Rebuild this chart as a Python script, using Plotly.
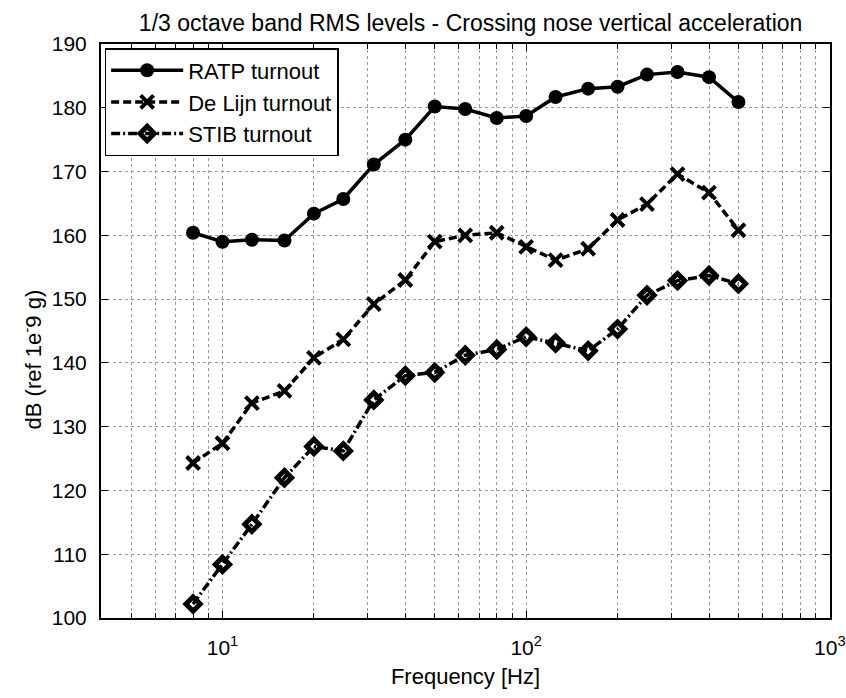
import plotly.graph_objects as go

# 1/3 octave band centre frequencies [Hz]
freq = [8, 10, 12.5, 16, 20, 25, 31.5, 40, 50, 63, 80, 100, 125, 160, 200, 250, 315, 400, 500]

# RMS levels in dB (ref 1e-9 g)
ratp = [160.4, 159.0, 159.3, 159.2, 163.4, 165.7, 171.1, 175.0, 180.2, 179.8, 178.4, 178.7,
        181.7, 183.0, 183.3, 185.2, 185.6, 184.8, 180.9]
de_lijn = [124.3, 127.4, 133.7, 135.6, 140.8, 143.7, 149.2, 153.0, 159.0, 160.0, 160.4, 158.2,
           156.1, 157.9, 162.4, 164.9, 169.6, 166.7, 160.8]
stib = [102.2, 108.4, 114.7, 122.0, 126.9, 126.2, 134.2, 138.0, 138.5, 141.2, 142.1, 144.1,
        143.1, 141.9, 145.3, 150.6, 152.9, 153.7, 152.4]

x_ticks = [10, 100, 1000]
x_tick_text = ["10<sup>1</sup>", "10<sup>2</sup>", "10<sup>3</sup>"]
x_minor = [5, 6, 7, 8, 9, 20, 30, 40, 50, 60, 70, 80, 90, 200, 300, 400, 500, 600, 700, 800, 900]
y_ticks = list(range(100, 191, 10))

font_family = "Liberation Sans, Arial, sans-serif"
grid_grey = "#9a9a9a"

fig = go.Figure()
fig.add_trace(go.Scatter(
    x=freq, y=ratp, name="RATP turnout", mode="lines+markers",
    line=dict(color="black", width=3.5, dash="solid"),
    marker=dict(symbol="circle", size=14, color="black"),
))
fig.add_trace(go.Scatter(
    x=freq, y=de_lijn, name="De Lijn turnout", mode="lines+markers",
    line=dict(color="black", width=3.5, dash="8px,4px"),
    marker=dict(symbol="x-thin-open", size=13, color="black", line=dict(width=4, color="black")),
))
fig.add_trace(go.Scatter(
    x=freq, y=stib, name="STIB turnout", mode="lines+markers",
    line=dict(color="black", width=3.5, dash="9px,3px,2px,3px"),
    marker=dict(symbol="diamond-open", size=11, color="black", line=dict(width=5, color="black")),
))

axis_common = dict(
    showline=True, linecolor="black", linewidth=2, mirror="ticks",
    ticks="inside", ticklen=7, tickcolor="black", tickwidth=1,
    showgrid=True, gridcolor=grid_grey, griddash="dot", gridwidth=1,
    zeroline=False, automargin=False,
    tickfont=dict(family=font_family, size=21, color="black"),
    title_font=dict(family=font_family, size=22, color="black"),
)

fig.update_xaxes(
    type="log", range=[0.6, 3.0005],
    tickvals=x_ticks, ticktext=x_tick_text, ticklabelstandoff=10,
    ticklabeloverflow="allow",
    minor=dict(tickmode="array", tickvals=x_minor, ticks="inside", ticklen=5,
               tickcolor="black", showgrid=True,
               gridcolor=grid_grey, griddash="dot", gridwidth=1),
    title_text="Frequency [Hz]", title_standoff=10,
    **axis_common,
)
fig.update_yaxes(
    range=[100, 190], tickvals=y_ticks, ticklabelstandoff=8,
    **axis_common,
)

# y-axis title drawn as a rotated annotation so it can sit slightly below centre
fig.add_annotation(
    text="dB (ref 1e<sup>-</sup>9 g)", textangle=-90,
    xref="paper", yref="paper", x=-0.095, y=0.45,
    xanchor="center", yanchor="middle", showarrow=False,
    font=dict(family=font_family, size=22, color="black"),
)

fig.update_layout(
    width=846, height=698,
    margin=dict(l=101, r=16, t=44, b=80),
    paper_bgcolor="white", plot_bgcolor="white",
    title=dict(text="1/3 octave band RMS levels - Crossing nose vertical acceleration",
               x=0.507, xanchor="center", xref="paper", y=1, yref="paper", yanchor="bottom",
               pad=dict(b=13),
               font=dict(family=font_family, size=23, color="black")),
    legend=dict(x=0.005, y=0.993, xanchor="left", yanchor="top",
                bgcolor="white", bordercolor="black", borderwidth=1.5,
                font=dict(family=font_family, size=22, color="black"),
                itemwidth=72, tracegroupgap=0),
    showlegend=True,
)

fig.write_html("out.html")
